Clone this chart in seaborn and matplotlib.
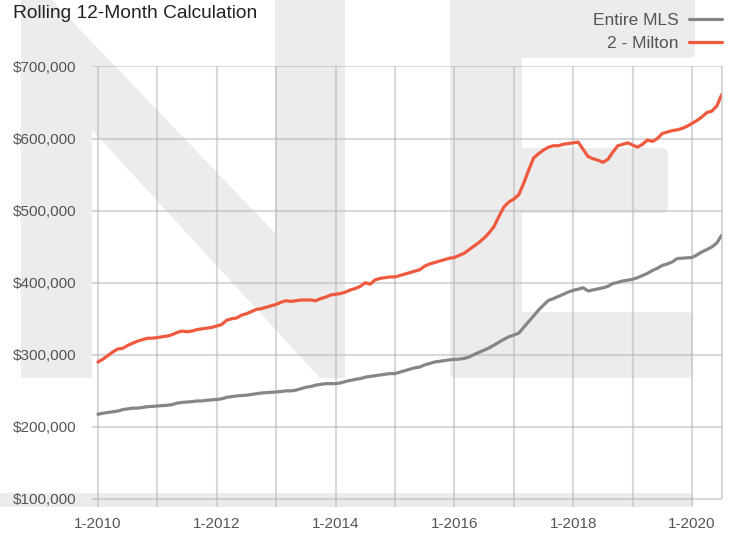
import numpy as np
import pandas as pd
import seaborn as sns
import matplotlib.pyplot as plt
import matplotlib.transforms as mtransforms
from matplotlib.patches import Polygon, FancyBboxPatch

# Monthly values, Jan 2010 .. Jul 2020 (in $)
milton = [290, 294, 299, 304, 308, 309, 313, 316, 319, 321, 323, 323,
          324, 325, 326, 328, 331, 333, 332, 333, 335, 336, 337, 338,
          340, 342, 348, 350, 351, 355, 357, 360, 363, 364, 366, 368,
          370, 373, 375, 374, 375, 376, 376, 376, 375, 378, 380, 383,
          384, 385, 387, 390, 392, 395, 400, 398, 404, 406, 407, 408,
          408, 410, 412, 414, 416, 418, 423, 426, 428, 430, 432, 434,
          435, 438, 441, 446, 451, 456, 462, 469, 478, 492, 505, 512,
          516, 522, 538, 556, 573, 579, 584, 588, 590, 590, 592, 593,
          594, 595, 585, 575, 572, 570, 567, 571, 581, 590, 592, 594,
          591, 588, 592, 598, 596, 600, 607, 609, 611, 612, 614, 617,
          621, 625, 630, 636, 638, 645, 661]
entire_mls = [217.5, 219, 220, 221, 222, 224, 225, 226, 226, 227, 228, 228.5,
              229, 229.5, 230, 231, 233, 234, 234.5, 235, 236, 236, 237, 237.5,
              238, 239, 241, 242, 243, 243.5, 244, 245, 246, 247, 247.5, 248,
              248.5, 249, 250, 250, 251, 253, 255, 256, 258, 259, 260, 260,
              260, 261, 263, 264.5, 266, 267, 269, 270, 271, 272, 273, 274,
              274, 276, 278, 280, 282, 283, 286, 288, 290, 291, 292, 293,
              293.5, 294, 295, 297, 300.5, 303.5, 306.5, 309.5, 313.5, 317.5, 321.5, 325,
              327.5, 330, 338, 346, 354, 362, 369, 375.5, 378, 381, 384, 387,
              389.5, 391, 393, 388.6, 390, 391.5, 392.8, 395, 398.8, 400.5, 402.5, 403.5,
              404.8, 407, 410, 413, 417, 420, 424, 426, 428.8, 433.5, 434, 434.5,
              435, 438.5, 442.7, 446, 449.6, 455, 466]
months = pd.date_range('2010-01-01', periods=len(milton), freq='MS')
year_ticks = list(range(2010, 2021))
year_labels = ['1-%d' % y if y % 2 == 0 else '' for y in year_ticks]
y_ticks = [100000, 200000, 300000, 400000, 500000, 600000, 700000]

df = pd.DataFrame({
    't': months.year + (months.month - 1) / 12,
    'Entire MLS': np.array(entire_mls) * 1000,
    '2 - Milton': np.array(milton) * 1000,
})

sns.set_style('white')
plt.rcParams['font.family'] = ['Liberation Sans', 'DejaVu Sans']

W, H = 733, 533
fig = plt.figure(figsize=(W / 100, H / 100), dpi=100)
ax = fig.add_axes([92 / W, 1 - 507 / H, 630 / W, 441 / H])
ax.set_facecolor('none')

# background watermark ("NE" logo) in pixel coordinates
px = mtransforms.Affine2D().scale(1 / W, -1 / H).translate(0, 1) + fig.transFigure
wm = '#ececec'
n_shape = [(21, 378), (21, -10), (42, -10), (275, 233), (275, -10), (345, -10),
           (345, 378), (320, 378), (92, 130), (92, 378)]
fig.add_artist(Polygon(n_shape, closed=True, fc=wm, ec='none', transform=px, zorder=-2))
for (x0, y0, w, h) in [(450, -20, 245, 78), (450, -20, 72, 398), (450, 148, 218, 65),
                       (450, 312, 243, 66), (-20, 493, 713, 14)]:
    fig.add_artist(FancyBboxPatch((x0, y0), w, h, boxstyle='round,pad=0,rounding_size=7',
                                  fc=wm, ec='none', transform=px, zorder=-2))

sns.lineplot(data=df, x='t', y='Entire MLS', color='#868686', lw=2.3, ax=ax, label='Entire MLS')
sns.lineplot(data=df, x='t', y='2 - Milton', color='#ef5a3e', lw=2.3, ax=ax, label='2 - Milton')

ax.set_xlim(2010 - 1.21 / 12, 2010 + 126.06 / 12)
ax.set_ylim(88900, 700600)
ax.set_xticks(year_ticks)
ax.set_xticklabels(year_labels)
ax.set_yticks(y_ticks)
ax.set_yticklabels(['$%s' % format(v, ',') for v in y_ticks])
ax.grid(True, color='#b8b8b8', alpha=0.55, lw=1.5)
ax.set_axisbelow(True)
for s in ax.spines.values():
    s.set_visible(False)
ax.vlines(ax.get_xlim()[1], 100000, 700000, color='#b8b8b8', alpha=0.55, lw=1.5, clip_on=False)
ax.tick_params(axis='both', length=0, labelsize=11, labelcolor='#555555')
ax.tick_params(axis='x', pad=7)
ax.tick_params(axis='y', pad=11)
ax.set_xlabel('')
ax.set_ylabel('')

fig.text(13 / W, 1 - 14 / H, 'Rolling 12-Month Calculation', fontsize=13.8, color='#222222',
         ha='left', va='center')
ax.legend(loc='upper right', bbox_to_anchor=(722 / W, 1 - 13 / H), bbox_transform=fig.transFigure,
          frameon=False, markerfirst=False, fontsize=12.5, labelcolor='#555555',
          handlelength=1.9, handletextpad=0.6, labelspacing=0.42, borderpad=0, borderaxespad=0)

plt.savefig('out.png', dpi=100)
